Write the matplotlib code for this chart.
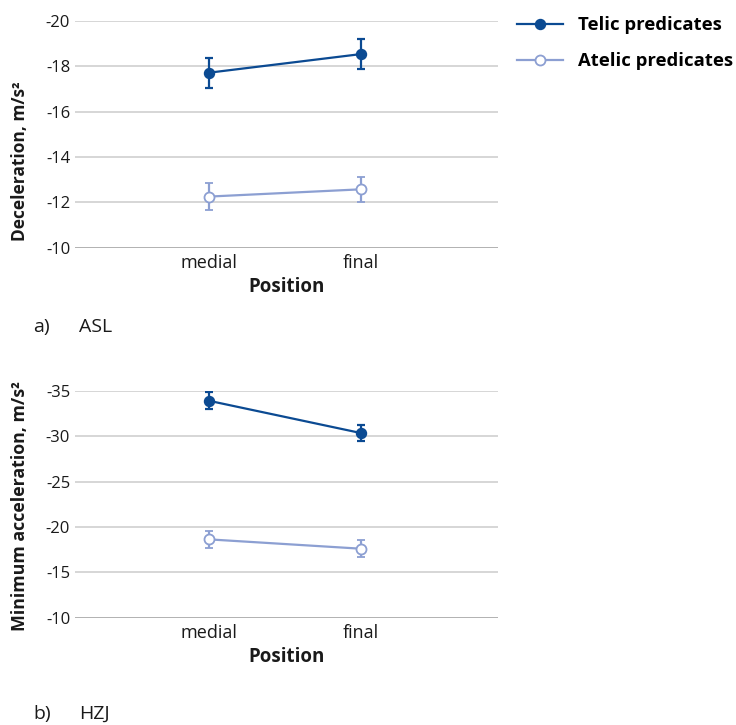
import matplotlib
matplotlib.use('Agg')
import matplotlib.pyplot as plt
from matplotlib.lines import Line2D

plt.rcParams['font.family'] = ['Open Sans', 'DejaVu Sans']

positions = ['medial', 'final']

# panel a) ASL - deceleration (m/s^2)
asl_telic = [-17.71, -18.53]
asl_telic_err = [0.66, 0.67]
asl_atelic = [-12.26, -12.58]
asl_atelic_err = [0.59, 0.55]

# panel b) HZJ - minimum acceleration (m/s^2)
hzj_telic = [-33.9, -30.34]
hzj_telic_err = [0.92, 0.92]
hzj_atelic = [-18.63, -17.6]
hzj_atelic_err = [0.95, 0.93]

TELIC, ATELIC = '#0b4a92', '#8c9fd2'
GRID, BASE, INK = '#cccccc', '#9a9a9a', '#1a1a1a'


def panel(ax, telic, telic_err, atelic, atelic_err, ylim, ticks, ylabel,
          ylabel_y, ylabel_size):
    x = list(range(len(positions)))
    ax.errorbar(x, telic, yerr=telic_err, color=TELIC, lw=1.6, marker='o',
                ms=7.2, capsize=2.8, elinewidth=1.6, capthick=1.6, zorder=4)
    ax.errorbar(x, atelic, yerr=atelic_err, color=ATELIC, lw=1.6, marker='o',
                ms=7.2, mfc='white', mec=ATELIC, mew=1.3, capsize=2.8,
                elinewidth=1.6, capthick=1.6, zorder=4)
    ax.set_xlim(-0.88, 1.9)
    ax.set_ylim(*ylim)
    ax.set_yticks(ticks)
    ax.set_yticklabels([str(t) for t in ticks])
    ax.set_xticks(x)
    ax.set_xticklabels(positions)
    for t in ticks[1:]:
        ax.axhline(t, color=GRID, lw=1.1, zorder=0)
    ax.axhline(ticks[0], color=BASE, lw=1.8, zorder=1)
    for s in ax.spines.values():
        s.set_visible(False)
    ax.tick_params(axis='y', length=0, labelsize=12, colors=INK, pad=3.5)
    ax.tick_params(axis='x', length=0, labelsize=13, colors=INK, pad=4.5)
    ax.set_xlabel('Position', fontsize=13.5, fontweight='bold', color=INK)
    ax.set_ylabel(ylabel, fontsize=ylabel_size, fontweight='bold', color=INK)
    ax.xaxis.set_label_coords(0.5, -0.13)
    ax.yaxis.set_label_coords(-0.108, ylabel_y)


fig = plt.figure(figsize=(7.36, 7.25), dpi=100)
ax1 = fig.add_axes([0.1019, 0.658, 0.5747, 0.3135])
ax2 = fig.add_axes([0.1019, 0.148, 0.5747, 0.313])

panel(ax1, asl_telic, asl_telic_err, asl_atelic, asl_atelic_err,
      (-10, -20), [-10, -12, -14, -16, -18, -20], 'Deceleration, m/s²',
      0.383, 12.5)
panel(ax2, hzj_telic, hzj_telic_err, hzj_atelic, hzj_atelic_err,
      (-10, -35), [-10, -15, -20, -25, -30, -35],
      'Minimum acceleration, m/s²', 0.49, 12.8)

handles = [
    Line2D([], [], color=TELIC, lw=1.6, marker='o', ms=7.2),
    Line2D([], [], color=ATELIC, lw=1.6, marker='o', ms=7.2, mfc='white',
           mec=ATELIC, mew=1.3),
]
fig.legend(handles, ['Telic predicates', 'Atelic predicates'],
           loc='upper left', bbox_to_anchor=(517 / 736, 1 - 16 / 725),
           frameon=False, borderpad=0, borderaxespad=0, handlelength=2.5,
           handletextpad=0.8, labelspacing=1.0,
           prop={'size': 13.3, 'weight': 'bold'})

fig.text(33 / 736, 1 - 327 / 725, 'a)', fontsize=14, color=INK, va='center')
fig.text(79 / 736, 1 - 327 / 725, 'ASL', fontsize=14, color=INK, va='center')
fig.text(33 / 736, 1 - 714 / 725, 'b)', fontsize=14, color=INK, va='center')
fig.text(79 / 736, 1 - 714 / 725, 'HZJ', fontsize=14, color=INK, va='center')

fig.savefig('out.png')
